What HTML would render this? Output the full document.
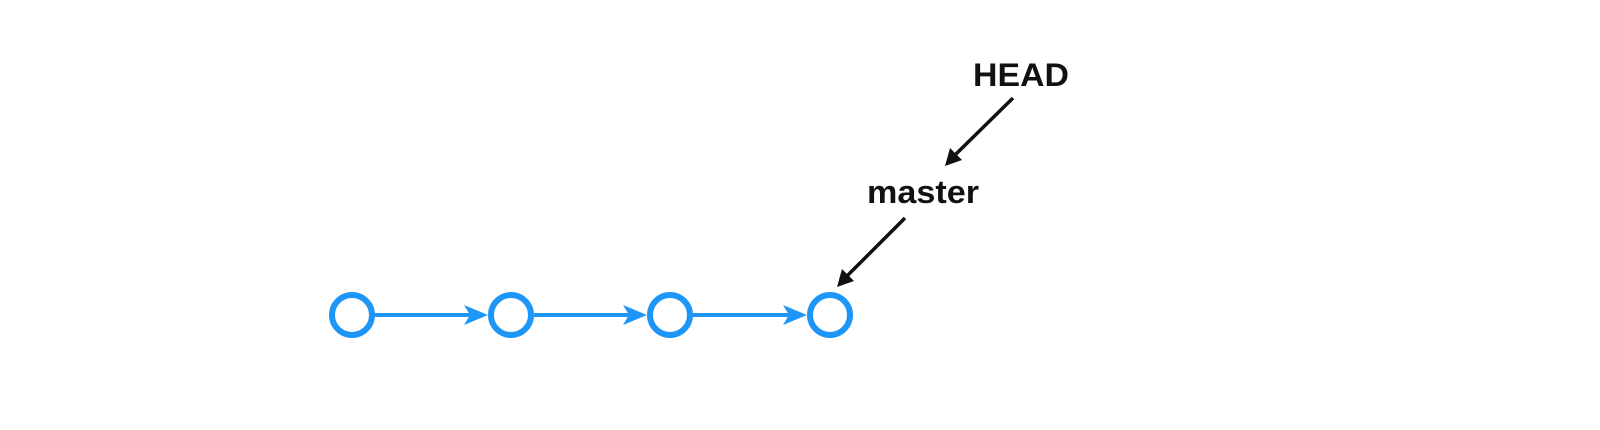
<!DOCTYPE html>
<html><head><meta charset="utf-8"><style>
html,body{margin:0;padding:0;background:#fff;width:1600px;height:430px;overflow:hidden}
</style></head><body>
<svg width="1600" height="430" viewBox="0 0 1600 430" xmlns="http://www.w3.org/2000/svg">
<g fill="none" stroke="#1e96f7" stroke-width="6">
<circle cx="352" cy="315" r="20"/>
<circle cx="511" cy="315" r="20"/>
<circle cx="670" cy="315" r="20"/>
<circle cx="830" cy="315" r="20"/>
</g>
<g stroke="#1e96f7" stroke-width="4">
<line x1="375" y1="315" x2="470" y2="315"/>
<line x1="534" y1="315" x2="629" y2="315"/>
<line x1="693" y1="315" x2="789" y2="315"/>
</g>
<g fill="#1e96f7">
<path d="M488,315 L464,305 L470,315 L464,325 Z"/>
<path d="M647,315 L623,305 L629,315 L623,325 Z"/>
<path d="M807,315 L783,305 L789,315 L783,325 Z"/>
</g>
<g stroke="#111" stroke-width="3.5">
<line x1="1013" y1="98" x2="955" y2="155"/>
<line x1="905" y1="218" x2="847" y2="276"/>
</g>
<g fill="#111">
<path d="M945,166 L950,148 L962,160 Z"/>
<path d="M837,287 L842,269 L854,281 Z"/>
</g>
<g font-family="'Comic Sans MS','Liberation Sans',sans-serif" font-weight="bold" fill="#111">
<text x="1021" y="86" font-size="32" text-anchor="middle" textLength="96" lengthAdjust="spacingAndGlyphs">HEAD</text>
<text x="923" y="203" font-size="32" text-anchor="middle" textLength="112" lengthAdjust="spacingAndGlyphs">master</text>
</g>
</svg>
</body></html>
